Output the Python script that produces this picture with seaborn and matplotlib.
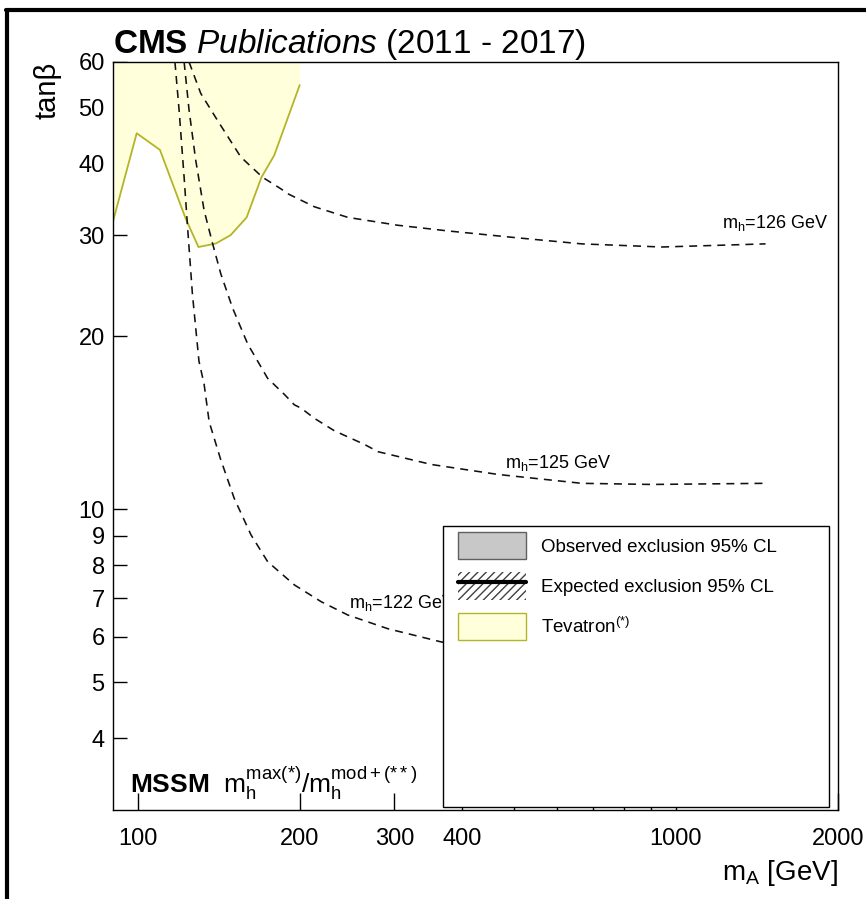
import numpy as np
import pandas as pd
import matplotlib
matplotlib.use("Agg")
import matplotlib.pyplot as plt
import seaborn as sns
from matplotlib.patches import Patch, Rectangle
from matplotlib.lines import Line2D
from matplotlib.legend_handler import HandlerTuple
from matplotlib.ticker import FixedLocator, NullFormatter, NullLocator

# ---------------- data ----------------
mA_122 = [117.3, 119.4, 122.0, 123.8, 126.4, 130.0, 132.9, 135.8, 142.5, 151.1, 162.4,
          174.4, 195.5, 219.2, 245.8, 291.7, 366.7, 500, 800, 1470]
tb_122 = [60, 49.5, 37.8, 31.0, 23.7, 18.1, 16.5, 14.2, 12.25, 10.46, 9.03,
          8.11, 7.39, 6.91, 6.55, 6.20, 5.88, 5.7, 5.6, 5.6]

mA_125 = [122.0, 124.6, 128.2, 132.9, 137.8, 142.7, 150.1, 160.1, 174.4, 187.3, 195.5,
          201.2, 213.0, 232.0, 263.9, 279.5, 351.3, 467.5, 668.3, 900, 1467]
tb_125 = [60, 49.5, 40.5, 33.1, 29.0, 25.7, 22.4, 19.4, 16.9, 15.85, 15.2,
          15.0, 14.4, 13.7, 12.97, 12.6, 11.97, 11.5, 11.1, 11.05, 11.1]

mA_126 = [124.6, 131.0, 140.7, 155.5, 170.7, 184.6, 190.1, 213.0, 245.8, 304.5, 377.4,
          502.1, 668.3, 941.8, 1467]
tb_126 = [60, 52.9, 47.5, 41.0, 37.8, 36.1, 35.4, 33.6, 32.2, 31.2, 30.5,
          29.7, 28.96, 28.6, 28.96]

tev_mA = [90, 99.6, 110, 122.9, 129.7, 139.7, 148.9, 159.4, 169.8, 179.4, 200]
tev_tb = [31.7, 45.1, 42.2, 32.0, 28.6, 29.0, 30.0, 32.2, 37.8, 41.3, 54.7]

curve_labels = ["122", "125", "126"]
label_pos_mA = [247.2, 480.3, 1220]
label_pos_tb = [6.74, 11.79, 30.8]

xtick_vals = [100, 200, 300, 400, 1000, 2000]
xtick_labels = ["100", "200", "300", "400", "1000", "2000"]
xminor_vals = [500, 600, 700, 800, 900]
ytick_vals = [4, 5, 6, 7, 8, 9, 10, 20, 30, 40, 50, 60]
ytick_labels = [str(v) for v in ytick_vals]

legend_labels = ["Observed exclusion 95% CL", "Expected exclusion 95% CL",
                 r"Tevatron$^{(*)}$"]

# ---------------- style ----------------
sns.set_theme(style="ticks")
FONT = "Liberation Sans"
plt.rcParams["font.family"] = [FONT, "DejaVu Sans"]
plt.rcParams["mathtext.fontset"] = "custom"
plt.rcParams["mathtext.rm"] = FONT
plt.rcParams["mathtext.it"] = FONT + ":italic"
plt.rcParams["mathtext.bf"] = FONT + ":bold"
plt.rcParams["mathtext.sf"] = FONT
plt.rcParams["hatch.linewidth"] = 1.0
for k in ["text.color", "axes.labelcolor", "xtick.color", "ytick.color", "axes.edgecolor"]:
    plt.rcParams[k] = "black"

TEV_FILL = "#ffffdc"
TEV_EDGE = "#b4b428"

fig = plt.figure(figsize=(8.66, 8.99), dpi=100, facecolor="white")
ax = fig.add_axes([113 / 866, 1 - 810 / 899, 725 / 866, 748 / 899])
ax.set_xscale("log")
ax.set_yscale("log")
ax.set_facecolor("white")

# Tevatron region
ax.fill_between(tev_mA, tev_tb, 100, color=TEV_FILL, lw=0, zorder=1)
sns.lineplot(x=tev_mA, y=tev_tb, color=TEV_EDGE, lw=1.3, sort=False,
             estimator=None, ax=ax, zorder=2)

# m_h contours
df = pd.concat([
    pd.DataFrame({"mA": mA_122, "tanb": tb_122, "mh": "122"}),
    pd.DataFrame({"mA": mA_125, "tanb": tb_125, "mh": "125"}),
    pd.DataFrame({"mA": mA_126, "tanb": tb_126, "mh": "126"}),
])
for mh in curve_labels:
    sub = df[df["mh"] == mh]
    sns.lineplot(data=sub, x="mA", y="tanb", color="#111111", lw=1.15,
                 linestyle=(0, (5, 3.8)), sort=False, estimator=None,
                 ax=ax, zorder=3, legend=False)

for mh, xm, yt in zip(curve_labels, label_pos_mA, label_pos_tb):
    ax.text(xm, yt, r"$\mathrm{m}_\mathrm{h}$=" + mh + " GeV", fontsize=13,
            va="baseline", ha="left", zorder=4)

ax.set_xlim(90, 2000)
ax.set_ylim(3, 60)

# ticks
ax.set_xticks(xtick_vals, labels=xtick_labels)
ax.xaxis.set_minor_locator(FixedLocator(xminor_vals))
ax.xaxis.set_minor_formatter(NullFormatter())
ax.set_yticks(ytick_vals, labels=ytick_labels)
ax.yaxis.set_minor_locator(NullLocator())
ax.tick_params(which="both", direction="in", top=False, right=False,
               color="black", width=1)
ax.tick_params(axis="x", which="major", length=12, pad=13, labelsize=17)
ax.tick_params(axis="x", which="minor", length=6)
ax.tick_params(axis="y", which="major", length=10, pad=6, labelsize=17)
for s in ax.spines.values():
    s.set_color("black")
    s.set_linewidth(1)

ax.set_xlabel(r"$\mathrm{m}_\mathrm{A}$ [GeV]", loc="right", fontsize=20, labelpad=6)
ax.set_ylabel("tanβ", loc="top", fontsize=21, labelpad=12)

# MSSM label
ax.text(0.023, 0.023,
        r"$\mathbf{MSSM}$  $\mathrm{m}_\mathrm{h}^\mathrm{max(*)}$/$\mathrm{m}_\mathrm{h}^\mathrm{mod+(**)}$",
        transform=ax.transAxes, fontsize=19, va="baseline", ha="left", zorder=4)

# legend box
rect = Rectangle((0.455, 0.004), 0.5326, 0.3757, transform=ax.transAxes,
                 facecolor="white", edgecolor="black", lw=1, zorder=5)
ax.add_patch(rect)
handles = [
    Patch(facecolor="#c8c8c8", edgecolor="#606060", lw=1),
    (Patch(facecolor="white", edgecolor="#404040", hatch="////", lw=0),
     Line2D([], [], color="black", lw=3)),
    Patch(facecolor=TEV_FILL, edgecolor=TEV_EDGE, lw=1),
]
leg = ax.legend(handles, legend_labels, loc="upper left",
                bbox_to_anchor=(0.476, 0.372), frameon=False, fontsize=13.5,
                handlelength=3.6, handleheight=1.9, handletextpad=0.8,
                labelspacing=0.68, borderpad=0, borderaxespad=0,
                handler_map={tuple: HandlerTuple(ndivide=1)})
leg.set_zorder(6)

# title
fig.text(113 / 866, 1 - 53 / 899,
         r"$\mathbf{CMS}$ $\mathit{Publications}$ (2011 - 2017)",
         fontsize=24, va="baseline", ha="left")

# screenshot frame
fig.add_artist(Line2D([6 / 866, 1], [1 - 10 / 899] * 2, transform=fig.transFigure,
                      color="black", lw=3))
fig.add_artist(Line2D([7 / 866] * 2, [0, 1 - 10 / 899], transform=fig.transFigure,
                      color="black", lw=3))

fig.savefig("out.png", dpi=100, facecolor="white")
